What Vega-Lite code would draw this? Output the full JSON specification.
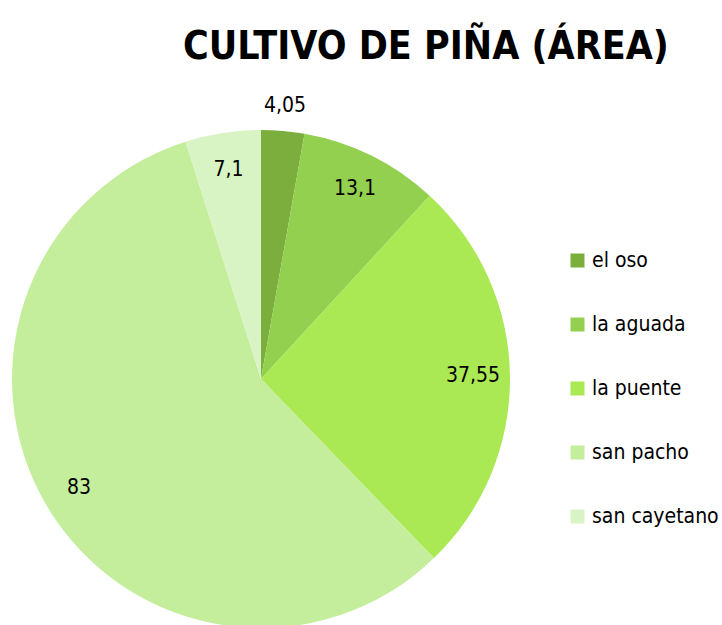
{
  "$schema": "https://vega.github.io/schema/vega-lite/v6.json",
  "autosize": "none",
  "width": 500,
  "height": 498,
  "padding": {"left": 11, "top": 130, "right": 211, "bottom": -3},
  "background": "white",
  "title": {
    "text": "CULTIVO DE PIÑA (ÁREA)",
    "font": "DejaVu Sans Condensed",
    "fontSize": 39,
    "fontWeight": "bold",
    "color": "#000000",
    "anchor": "middle",
    "frame": "group",
    "dx": 165,
    "offset": 28
  },
  "data": {
    "values": [
      {"zona": "el oso", "area": 4.05, "etiqueta": "4,05", "orden": 1},
      {"zona": "la aguada", "area": 13.1, "etiqueta": "13,1", "orden": 2},
      {"zona": "la puente", "area": 37.55, "etiqueta": "37,55", "orden": 3},
      {"zona": "san pacho", "area": 83, "etiqueta": "83", "orden": 4},
      {"zona": "san cayetano", "area": 7.1, "etiqueta": "7,1", "orden": 5}
    ]
  },
  "encoding": {
    "theta": {"field": "area", "type": "quantitative", "stack": true},
    "order": {"field": "orden", "type": "quantitative"}
  },
  "layer": [
    {
      "mark": {"type": "arc", "outerRadius": 249},
      "encoding": {
        "color": {
          "field": "zona",
          "type": "nominal",
          "sort": ["el oso", "la aguada", "la puente", "san pacho", "san cayetano"],
          "scale": {
            "domain": ["el oso", "la aguada", "la puente", "san pacho", "san cayetano"],
            "range": ["#7BAE3C", "#93D050", "#AAE954", "#C4EE9C", "#D8F4C4"]
          },
          "legend": {
            "title": null,
            "orient": "none",
            "legendX": 556,
            "legendY": 120,
            "symbolType": "square",
            "symbolSize": 196,
            "symbolStrokeWidth": 0,
            "labelFont": "DejaVu Sans Condensed",
            "labelFontSize": 21,
            "labelColor": "#000000",
            "labelOffset": 4,
            "rowPadding": 42,
            "labelLimit": 300
          }
        }
      }
    },
    {
      "mark": {"type": "text", "radius": 212, "font": "DejaVu Sans Condensed", "fontSize": 21, "color": "#000000"},
      "encoding": {"text": {"condition": {"test": "datum.zona == 'el oso'", "value": ""}, "field": "etiqueta"}}
    },
    {
      "mark": {"type": "text", "radius": 274, "font": "DejaVu Sans Condensed", "fontSize": 21, "color": "#000000"},
      "encoding": {"text": {"condition": {"test": "datum.zona != 'el oso'", "value": ""}, "field": "etiqueta"}}
    }
  ],
  "config": {"view": {"stroke": null}}
}
